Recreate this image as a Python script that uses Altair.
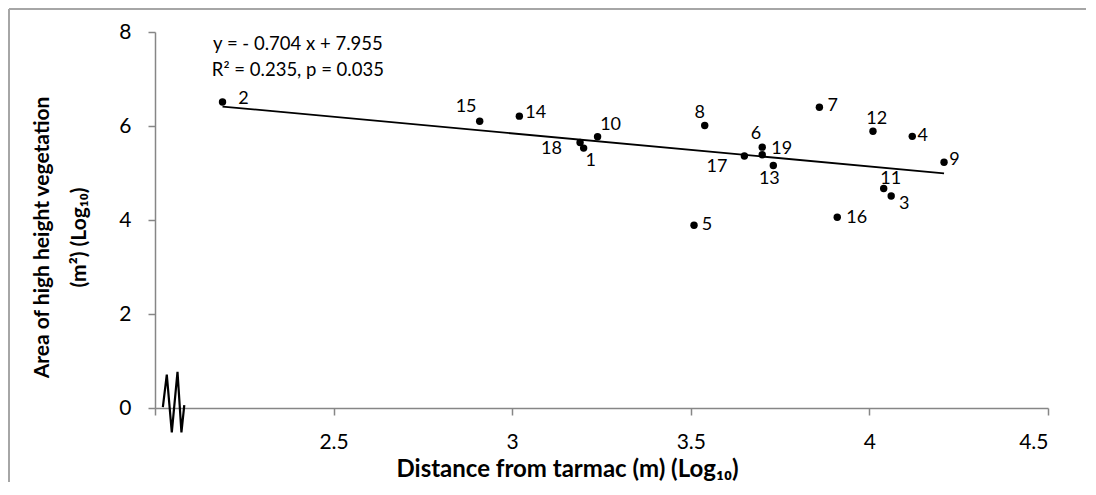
import altair as alt
import pandas as pd

# ---- data ----
sites = [str(i) for i in range(1, 20)]
dist_log = [3.200, 2.189, 4.061, 4.120, 3.509, 3.700, 3.860, 3.539, 4.209, 3.239,
            4.040, 4.010, 3.731, 3.020, 2.909, 3.910, 3.650, 3.190, 3.700]
area_log = [5.53, 6.51, 4.51, 5.78, 3.89, 5.55, 6.40, 6.01, 5.23, 5.77,
            4.67, 5.89, 5.16, 6.21, 6.10, 4.06, 5.36, 5.65, 5.39]

# label offsets (pixels) for each site label
label_dx = [7, 21, 13, 10.4, 13, -6.3, 13.4, -5, 10.3, 13, 7, 3.7, -4, 16.3, -13.6, 19.4, -27.4, -28.6, 19.4]
label_dy = [13, -3.4, 7.6, 0, 0, -12.7, -1.4, -12.7, -1.7, -12, -9.6, -12.4, 14, -3.4, -14.3, 1.3, 11, 6.7, -5.3]

# regression shown on the chart
slope = -0.704
intercept = 7.955
eq_lines = ["y = - 0.704 x + 7.955", "R\u00b2 = 0.235, p = 0.035"]
eq_x = [2.40, 2.40]
eq_y = [7.74, 7.19]

# axis break symbol (data units)
break_x = [2.022, 2.033, 2.047, 2.063, 2.074, 2.082]
break_y = [0.02, 0.71, -0.52, 0.77, -0.52, 0.06]

x_ticks = [2, 2.5, 3, 3.5, 4, 4.5]
y_ticks = [0, 2, 4, 6, 8]

FONT = "Lato"
W, H = 893, 376
PAD = {"left": 147, "top": 24, "right": 40, "bottom": 74}

pts = pd.DataFrame({"site": sites, "x": dist_log, "y": area_log})
x0, x1 = min(dist_log), max(dist_log)
trend = pd.DataFrame({"x": [x0, x1], "y": [slope * x0 + intercept, slope * x1 + intercept]})
eq = pd.DataFrame({"t": eq_lines, "x": eq_x, "y": eq_y})
brk = pd.DataFrame({"x": break_x, "y": break_y, "o": list(range(len(break_x)))})

xscale = alt.Scale(domain=[2, 4.5], nice=False, zero=False)
yscale = alt.Scale(domain=[0, 8], nice=False, zero=True)

xaxis = alt.Axis(
    values=x_ticks,
    labelExpr="datum.value == 2 ? '' : format(datum.value, '~g')",
    title="Distance from tarmac (m) (Log\u2081\u2080)",
    titleX=412, titleY=68.5, titleAlign="center", titleBaseline="alphabetic",
    titleFontSize=24,
    labelPadding=16,
)
yaxis = alt.Axis(
    values=y_ticks, format="d",
    title=["Area of high height vegetation", "(m\u00b2) (Log\u2081\u2080)"],
    titleX=-124, titleY=205, titleAngle=270, titleAlign="center", titleBaseline="top",
    titleFontSize=21,
    titleLineHeight=37, labelPadding=17,
)

base_x = alt.X("x:Q", scale=xscale, axis=xaxis)
base_y = alt.Y("y:Q", scale=yscale, axis=yaxis)

one = pd.DataFrame({"a": [0]})
border_left = alt.Chart(one).mark_rule(color="#a6a6a6", strokeWidth=2).encode(
    x=alt.value(-146), y=alt.value(-23), y2=alt.value(H + PAD["bottom"]))
border_top = alt.Chart(one).mark_rule(color="#a6a6a6", strokeWidth=2).encode(
    x=alt.value(-146), x2=alt.value(W + PAD["right"] - 2), y=alt.value(-23))

points = alt.Chart(pts).mark_circle(size=55, color="black", opacity=1).encode(x=base_x, y=base_y)

label_layers = []
for i in range(len(sites)):
    label_layers.append(
        alt.Chart(pts.iloc[[i]]).mark_text(
            font=FONT, fontSize=18, color="black", align="center", baseline="middle",
            dx=label_dx[i], dy=label_dy[i],
        ).encode(x=alt.X("x:Q", scale=xscale), y=alt.Y("y:Q", scale=yscale), text="site:N")
    )

trend_line = alt.Chart(trend).mark_line(color="black", strokeWidth=1.8).encode(
    x=alt.X("x:Q", scale=xscale), y=alt.Y("y:Q", scale=yscale)
)

eq_text = alt.Chart(eq).mark_text(font=FONT, fontSize=18.5, color="black", align="center", baseline="middle").encode(
    x=alt.X("x:Q", scale=xscale), y=alt.Y("y:Q", scale=yscale), text="t:N"
)

brk_line = alt.Chart(brk).mark_line(color="black", strokeWidth=2.2, clip=False).encode(
    x=alt.X("x:Q", scale=xscale), y=alt.Y("y:Q", scale=yscale), order="o:Q"
)

chart = alt.layer(border_left, border_top, trend_line, points, *label_layers, eq_text, brk_line).properties(
    width=W, height=H,
    autosize=alt.AutoSizeParams(type="none"),
    padding=PAD,
).configure_view(stroke=None).configure_axis(
    grid=False, domainColor="#868686", domainWidth=1.5, tickColor="#868686", tickWidth=1.5, tickSize=7,
    labelFont=FONT, labelFontSize=21, labelColor="black",
    titleFont=FONT, titleFontWeight="bold", titleColor="black",
)

chart.save("out.html", embed_options={"renderer": "svg", "actions": False})
